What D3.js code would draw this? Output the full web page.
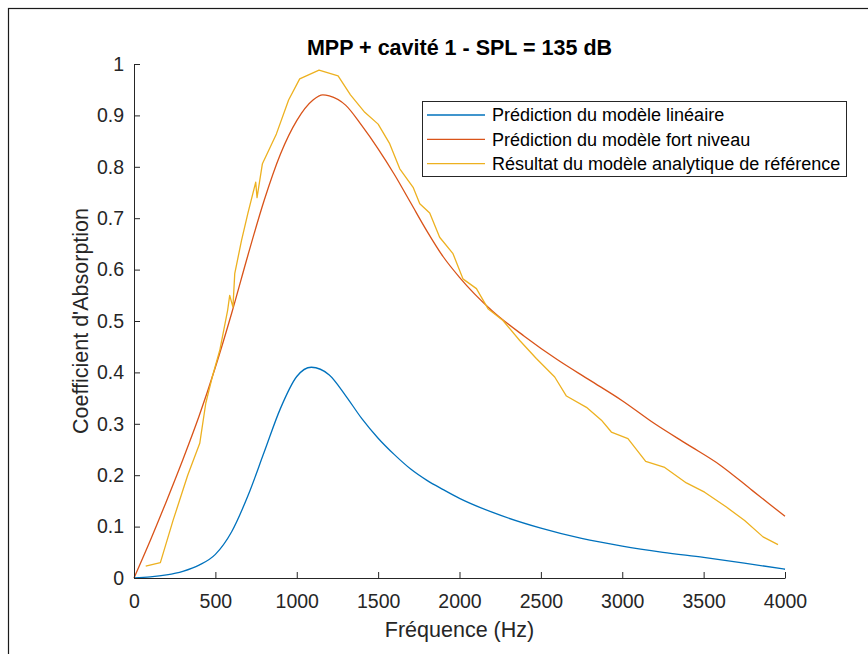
<!DOCTYPE html>
<html>
<head>
<meta charset="utf-8">
<script src="https://cdn.jsdelivr.net/npm/d3@7"></script>
<style>
  body { margin: 0; background: #fff; }
  svg { display: block; font-family: "Liberation Sans", Arial, sans-serif; }
</style>
</head>
<body>
<svg id="chart"></svg>
<script>
// linear model prediction
const blueFreq   = [0, 100, 200, 300, 400, 500, 600, 700, 800, 900, 1000, 1090, 1200, 1300, 1400, 1500, 1600, 1700, 1800, 1900, 2000, 2200, 2500, 2750, 3000, 3250, 3500, 3750, 4000];
const blueValues = [0, 0.002, 0.006, 0.013, 0.025, 0.046, 0.09, 0.16, 0.245, 0.33, 0.392, 0.41, 0.395, 0.355, 0.31, 0.272, 0.24, 0.212, 0.19, 0.172, 0.155, 0.128, 0.097, 0.077, 0.062, 0.05, 0.04, 0.029, 0.017];

// high level model prediction
const redFreq   = [0, 100, 200, 300, 400, 500, 600, 700, 800, 900, 1000, 1100, 1160, 1200, 1300, 1400, 1500, 1600, 1700, 1800, 1900, 2000, 2200, 2400, 2600, 2800, 3000, 3200, 3400, 3600, 3800, 4000];
const redValues = [0, 0.073, 0.15, 0.23, 0.315, 0.41, 0.515, 0.628, 0.735, 0.825, 0.89, 0.93, 0.94, 0.938, 0.92, 0.88, 0.835, 0.785, 0.73, 0.675, 0.625, 0.585, 0.52, 0.47, 0.425, 0.385, 0.345, 0.3, 0.26, 0.22, 0.17, 0.12];

// analytical reference model
const yellowFreq   = [72, 162, 240, 330, 404, 441, 480, 527, 575, 588, 608, 619, 660, 700, 748, 756, 789, 875, 950, 1018, 1137, 1254, 1330, 1418, 1500, 1571, 1633, 1715, 1756, 1817, 1878, 1960, 2021, 2104, 2175, 2267, 2370, 2472, 2585, 2657, 2780, 2872, 2933, 3035, 3144, 3261, 3394, 3506, 3640, 3752, 3865, 3957];
const yellowValues = [0.023, 0.03, 0.112, 0.2, 0.262, 0.34, 0.39, 0.443, 0.52, 0.55, 0.527, 0.592, 0.656, 0.71, 0.77, 0.74, 0.806, 0.864, 0.93, 0.971, 0.988, 0.977, 0.94, 0.906, 0.883, 0.845, 0.796, 0.76, 0.728, 0.71, 0.663, 0.631, 0.582, 0.563, 0.524, 0.501, 0.462, 0.427, 0.391, 0.354, 0.332, 0.307, 0.284, 0.271, 0.227, 0.215, 0.185, 0.167, 0.138, 0.112, 0.08, 0.065];

const seriesNames = ["Prédiction du modèle linéaire", "Prédiction du modèle fort niveau", "Résultat du modèle analytique de référence"];
const seriesColors = ["#0072BD", "#D95319", "#EDB120"];
const xTicks = [0, 500, 1000, 1500, 2000, 2500, 3000, 3500, 4000];
const yTicks = [0, 0.1, 0.2, 0.3, 0.4, 0.5, 0.6, 0.7, 0.8, 0.9, 1];

const width = 868;
const height = 654;
const margin = { top: 64, right: 83, bottom: 76, left: 134 };
const axisColor = "#262626";

const svg = d3.select("#chart")
    .attr("width", width)
    .attr("height", height);

svg.append("rect").attr("width", width).attr("height", height).attr("fill", "#fff");

// outer figure frame (only top and left edges visible)
svg.append("rect")
    .attr("x", 8.5).attr("y", 8.5)
    .attr("width", 900).attr("height", 700)
    .attr("fill", "none")
    .attr("stroke", "#1a1a1a")
    .attr("stroke-width", 1.2);

const x = d3.scaleLinear()
    .domain([0, 4000])
    .range([margin.left, width - margin.right]);

const y = d3.scaleLinear()
    .domain([0, 1])
    .range([height - margin.bottom, margin.top]);

const series = [
    blueFreq.map((f, i) => [f, blueValues[i]]),
    redFreq.map((f, i) => [f, redValues[i]]),
    yellowFreq.map((f, i) => [f, yellowValues[i]])
];

const smooth = d3.line().x(d => x(d[0])).y(d => y(d[1])).curve(d3.curveMonotoneX);
const straight = d3.line().x(d => x(d[0])).y(d => y(d[1]));

series.forEach((s, i) => {
    svg.append("path")
        .datum(s)
        .attr("fill", "none")
        .attr("stroke", seriesColors[i])
        .attr("stroke-width", 1.3)
        .attr("stroke-linejoin", "round")
        .attr("d", i === 2 ? straight : smooth);
});

// axes, ticks pointing inward
const xAxis = svg.append("g")
    .attr("transform", `translate(0,${height - margin.bottom})`)
    .call(d3.axisBottom(x).tickValues(xTicks).tickSizeInner(-6).tickSizeOuter(0).tickPadding(16).tickFormat(d3.format("d")));

const yAxis = svg.append("g")
    .attr("transform", `translate(${margin.left},0)`)
    .call(d3.axisLeft(y).tickValues(yTicks).tickSizeInner(-6).tickSizeOuter(0).tickPadding(10).tickFormat(d => d === 0 || d === 1 ? d3.format("d")(d) : d3.format(".1f")(d)));

[xAxis, yAxis].forEach(g => {
    g.select(".domain").attr("stroke", axisColor).attr("stroke-width", 1);
    g.selectAll(".tick line").attr("stroke", axisColor).attr("stroke-width", 1);
    g.selectAll(".tick text")
        .attr("fill", axisColor)
        .style("font-size", "19.5px")
        .style("font-family", "Liberation Sans, Arial, sans-serif");
});

// title and axis labels
svg.append("text")
    .attr("x", (margin.left + width - margin.right) / 2)
    .attr("y", 55)
    .attr("text-anchor", "middle")
    .attr("font-weight", "bold")
    .attr("font-size", "21.5px")
    .attr("fill", "#000")
    .text("MPP + cavité 1 - SPL = 135 dB");

svg.append("text")
    .attr("x", (margin.left + width - margin.right) / 2)
    .attr("y", 637)
    .attr("text-anchor", "middle")
    .attr("font-size", "21.5px")
    .attr("fill", axisColor)
    .text("Fréquence (Hz)");

svg.append("text")
    .attr("transform", `translate(88,${(margin.top + height - margin.bottom) / 2}) rotate(-90)`)
    .attr("text-anchor", "middle")
    .attr("font-size", "21.5px")
    .attr("fill", axisColor)
    .text("Coefficient d'Absorption");

// legend
const legend = svg.append("g").attr("transform", "translate(422,101)");
legend.append("rect")
    .attr("x", 0.5).attr("y", 0.5)
    .attr("width", 424).attr("height", 75)
    .attr("fill", "#fff")
    .attr("stroke", axisColor)
    .attr("stroke-width", 1);

seriesNames.forEach((name, i) => {
    const cy = 14 + i * 24.3;
    legend.append("line")
        .attr("x1", 5).attr("x2", 63)
        .attr("y1", cy).attr("y2", cy)
        .attr("stroke", seriesColors[i])
        .attr("stroke-width", 1.3);
    legend.append("text")
        .attr("x", 70).attr("y", cy)
        .attr("dy", "0.35em")
        .attr("font-size", "18px")
        .attr("fill", "#000")
        .text(name);
});
</script>
</body>
</html>
